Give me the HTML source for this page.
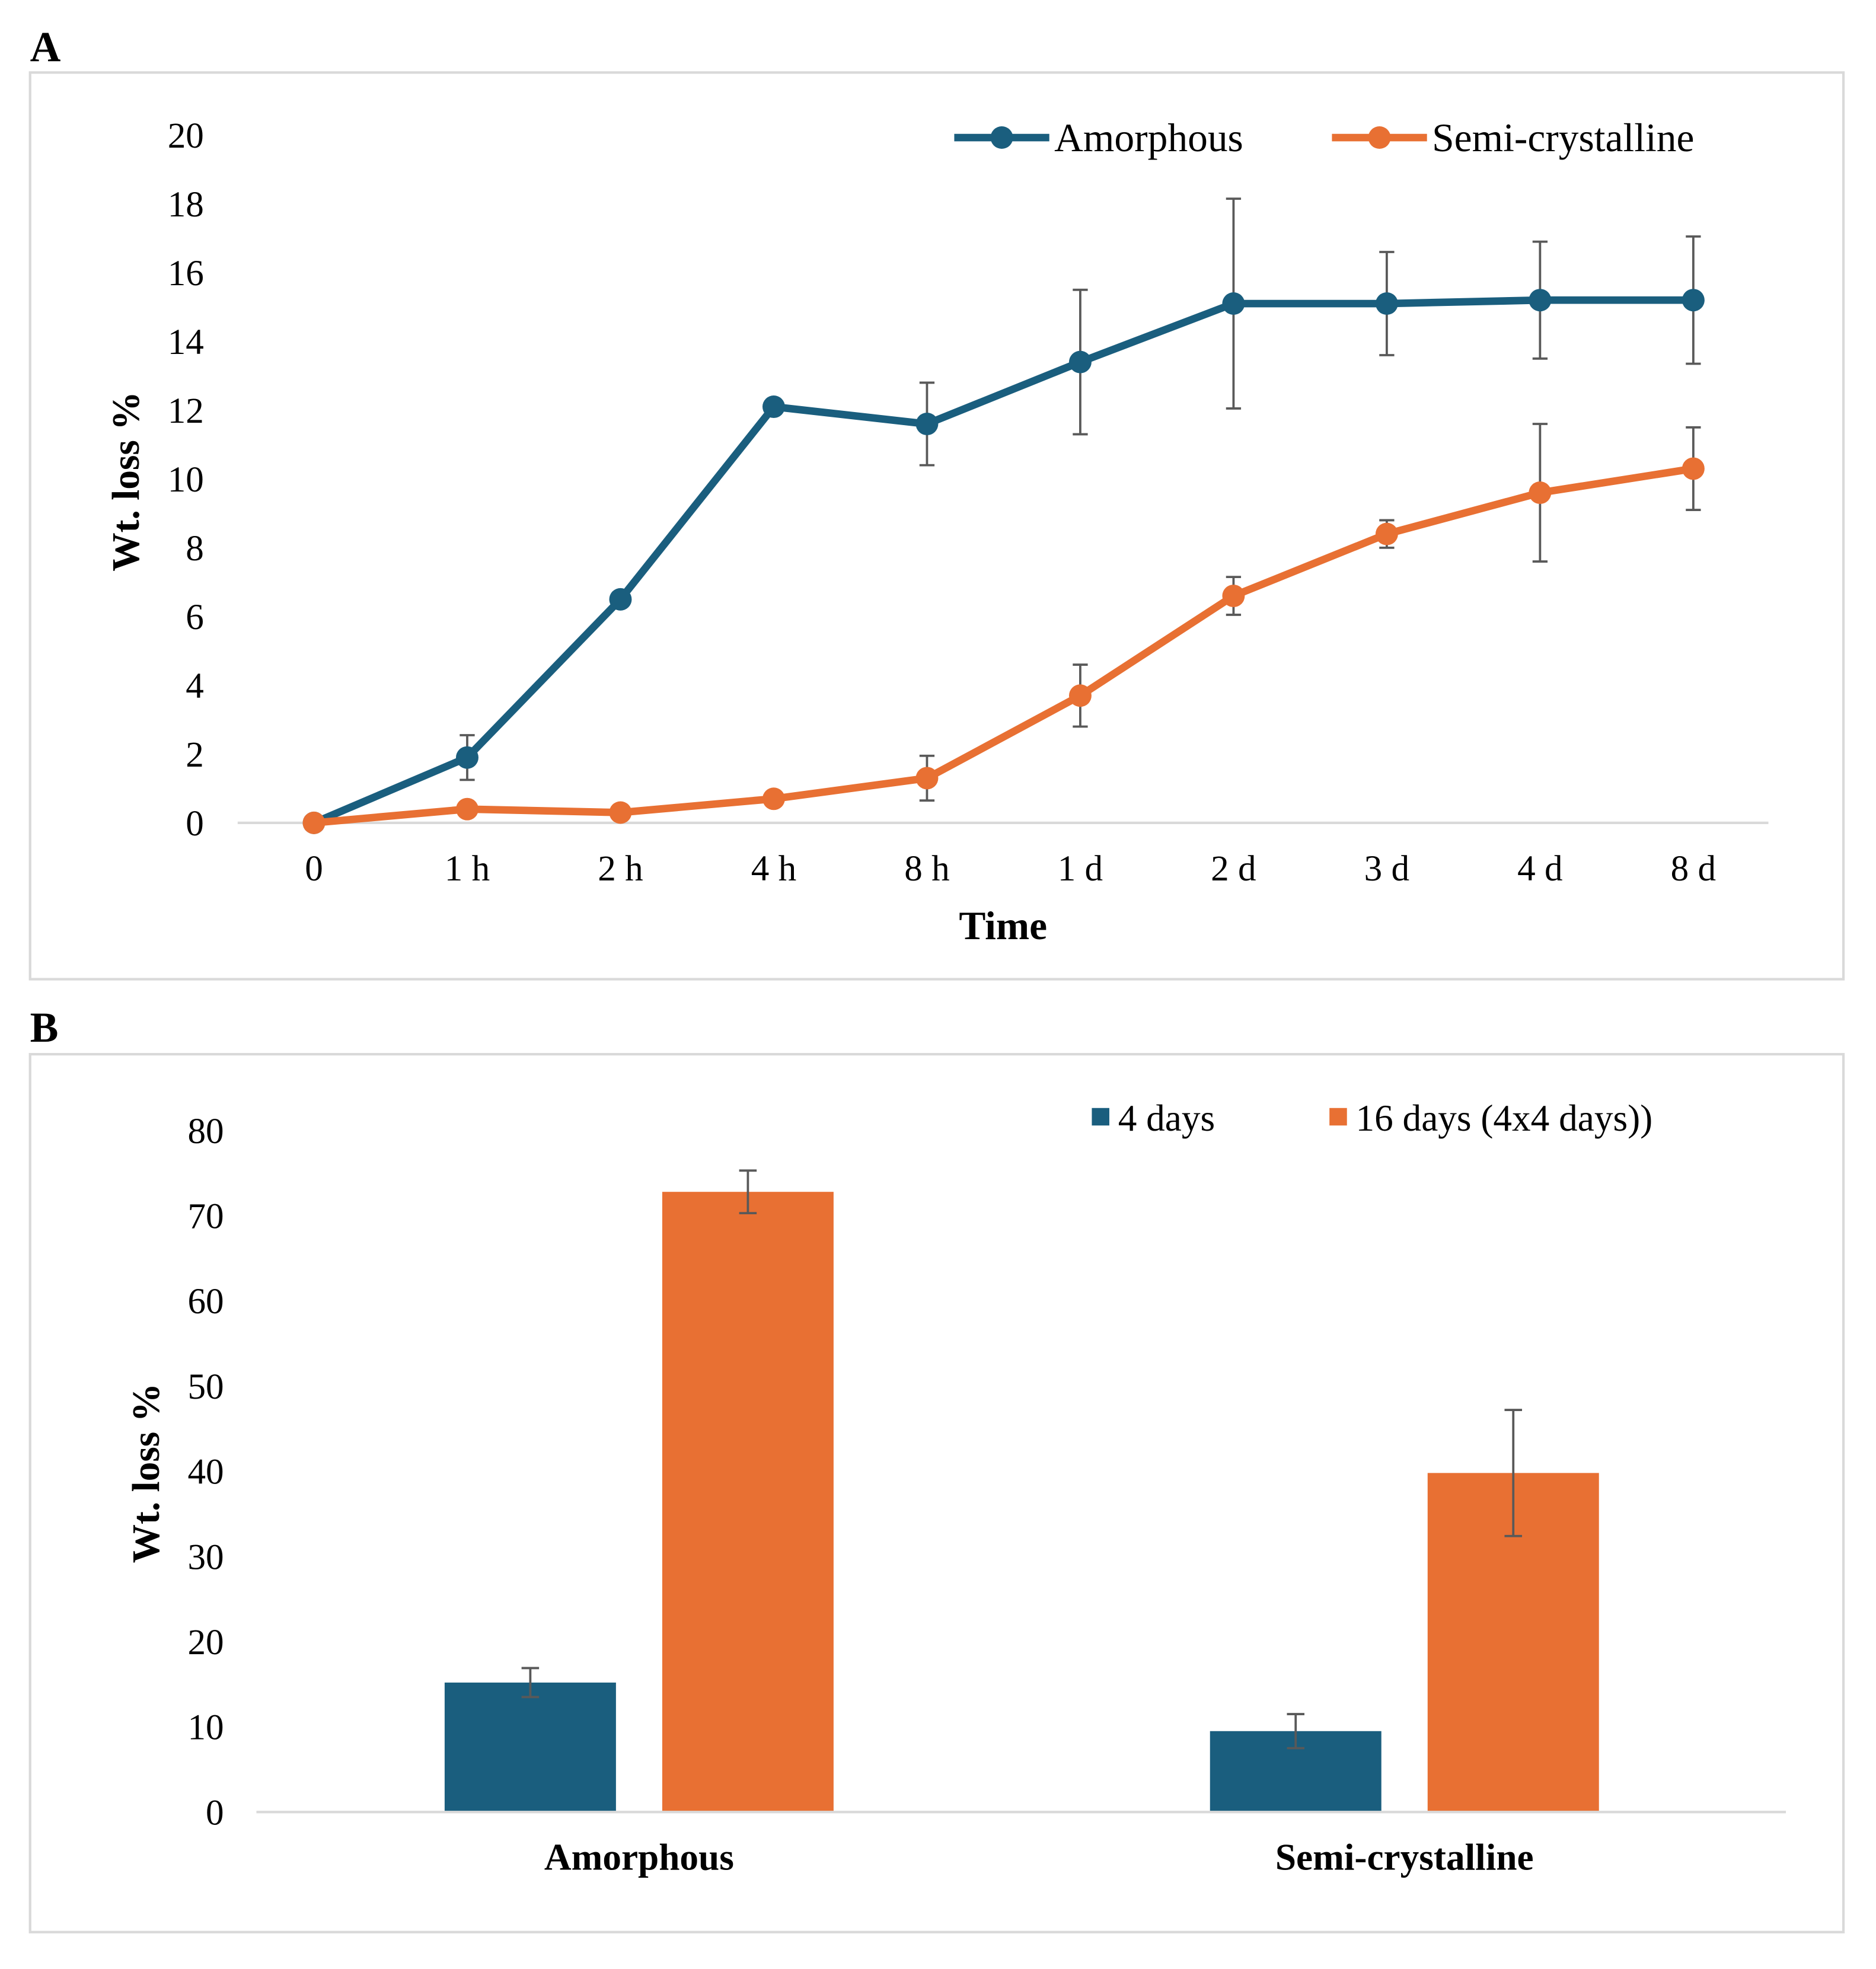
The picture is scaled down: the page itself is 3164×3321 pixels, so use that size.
<!DOCTYPE html>
<html><head><meta charset="utf-8">
<style>
html,body{margin:0;padding:0;background:#fff;}
svg{display:block;}
text{font-family:"Liberation Serif",serif;fill:#000;}
</style></head>
<body>
<svg id="fig" width="3164" height="3321" viewBox="0 0 1500 1574.5" xmlns="http://www.w3.org/2000/svg">
<rect x="0" y="0" width="1500" height="1574.5" fill="#fff"/>
<text x="24" y="49" font-size="34" font-weight="bold">A</text>
<rect x="24" y="58" width="1450" height="725" fill="none" stroke="#d9d9d9" stroke-width="2"/>
<text x="24" y="833" font-size="34" font-weight="bold">B</text>
<rect x="24" y="843" width="1450" height="702" fill="none" stroke="#d9d9d9" stroke-width="2"/>
<g id="chartA"></g>
<g id="chartB"></g>
</svg>
<script>
const timeLabels = ["0","1 h","2 h","4 h","8 h","1 d","2 d","3 d","4 d","8 d"];
const amorphousVals = [0,1.9,6.5,12.1,11.6,13.4,15.1,15.1,15.2,15.2];
const amorphousErr = [0,0.65,0,0,1.2,2.1,3.05,1.5,1.7,1.85];
const semiVals = [0,0.4,0.3,0.7,1.3,3.7,6.6,8.4,9.6,10.3];
const semiErr = [0,0,0,0.1,0.65,0.9,0.55,0.4,2.0,1.2];
const yTicksA = [0,2,4,6,8,10,12,14,16,18,20];

const barCategories = ["Amorphous","Semi-crystalline"];
const fourDayVals = [15.2,9.5];
const fourDayErr = [1.7,2.0];
const sixteenDayVals = [72.8,39.8];
const sixteenDayErr = [2.5,7.4];
const yTicksB = [0,10,20,30,40,50,60,70,80];

const NS="http://www.w3.org/2000/svg";
const BLUE="#1a5e7e", ORANGE="#e87033", ERR="#595959";
function mk(parent,tag,attrs,text){const e=document.createElementNS(NS,tag);for(const k in attrs)e.setAttribute(k,attrs[k]);if(text!==undefined)e.textContent=text;parent.appendChild(e);return e;}

// ---- Chart A ----
const A=document.getElementById('chartA');
const ax0=251, axStep=122.55, ay0=658, ayScale=27.5;
const xA=i=>ax0+i*axStep;
const yA=v=>ay0-v*ayScale;
yTicksA.forEach(t=>{const e=mk(A,'text',{x:163,y:yA(t)+10,'font-size':29,'text-anchor':'end'},String(t));

});
let ln=mk(A,'line',{x1:190,x2:1414,y1:ay0,y2:ay0,stroke:'#d9d9d9','stroke-width':2});


timeLabels.forEach((t,i)=>{const e=mk(A,'text',{x:xA(i),y:704,'font-size':29,'text-anchor':'middle'},t);

});
let tt=mk(A,'text',{x:802,y:751,'font-size':32,'font-weight':'bold','text-anchor':'middle'},'Time');


let yt=mk(A,'text',{x:0,y:0,'font-size':31,'font-weight':'bold','text-anchor':'middle',transform:'translate(111,385) rotate(-90)'},'Wt. loss %');


function drawSeries(vals,errs,color,name){
  errs.forEach((er,i)=>{if(er>0){const g=mk(A,'g',{stroke:ERR,'stroke-width':1.8});
    
    
    mk(g,'line',{x1:xA(i),x2:xA(i),y1:yA(vals[i]-er),y2:yA(vals[i]+er)});
    mk(g,'line',{x1:xA(i)-6,x2:xA(i)+6,y1:yA(vals[i]-er),y2:yA(vals[i]-er)});
    mk(g,'line',{x1:xA(i)-6,x2:xA(i)+6,y1:yA(vals[i]+er),y2:yA(vals[i]+er)});}});
  const p=mk(A,'polyline',{points:vals.map((v,i)=>xA(i)+','+yA(v)).join(' '),fill:'none',stroke:color,'stroke-width':6,'stroke-linejoin':'round'});
  
  
  vals.forEach((v,i)=>{const c=mk(A,'circle',{cx:xA(i),cy:yA(v),r:9,fill:color});
    
    });
}
drawSeries(amorphousVals,amorphousErr,BLUE,'amorphous');
drawSeries(semiVals,semiErr,ORANGE,'semi-crystalline');
const legA=[[763,'Amorphous',BLUE],[1065,'Semi-crystalline',ORANGE]];
legA.forEach(([x,t,c])=>{const g=mk(A,'g',{});
  
  
  mk(g,'line',{x1:x,x2:x+76,y1:110,y2:110,stroke:c,'stroke-width':6});
  mk(g,'circle',{cx:x+38,cy:110,r:9,fill:c});
  mk(g,'text',{x:x+80,y:121,'font-size':32},t);});

// ---- Chart B ----
const B=document.getElementById('chartB');
const by0=1449, byScale=(1449-904)/80;
const yB=v=>by0-v*byScale;
const catCenters=[511,1123], barW=137, gap=37;
yTicksB.forEach(t=>{const e=mk(B,'text',{x:179,y:yB(t)+10,'font-size':29,'text-anchor':'end'},String(t));

});
let yt2=mk(B,'text',{x:0,y:0,'font-size':31,'font-weight':'bold','text-anchor':'middle',fill:'#595959',transform:'translate(127,1178) rotate(-90)'},'Wt. loss %');


function drawBar(x,v,er,color,name){
  const r=mk(B,'rect',{x:x,y:yB(v),width:barW,height:by0-yB(v),fill:color});
  
  
  const cx=x+barW/2;const g=mk(B,'g',{stroke:ERR,'stroke-width':1.8});
  
  
  mk(g,'line',{x1:cx,x2:cx,y1:yB(v-er),y2:yB(v+er)});
  mk(g,'line',{x1:cx-7,x2:cx+7,y1:yB(v-er),y2:yB(v-er)});
  mk(g,'line',{x1:cx-7,x2:cx+7,y1:yB(v+er),y2:yB(v+er)});
}
barCategories.forEach((c,i)=>{
  drawBar(catCenters[i]-gap/2-barW,fourDayVals[i],fourDayErr[i],BLUE,'bar-4-days');
  drawBar(catCenters[i]+gap/2,sixteenDayVals[i],sixteenDayErr[i],ORANGE,'bar-16-days');
  const e=mk(B,'text',{x:catCenters[i],y:1495,'font-size':30,'font-weight':'bold','text-anchor':'middle'},c);
  
  
});
let ln2=mk(B,'line',{x1:205,x2:1428,y1:by0,y2:by0,stroke:'#d9d9d9','stroke-width':2});


const legB=[[873,'4 days',BLUE],[1063,'16 days (4x4 days))',ORANGE]];
legB.forEach(([x,t,c])=>{const g=mk(B,'g',{});
  
  
  mk(g,'rect',{x:x,y:886,width:14,height:14,fill:c});
  mk(g,'text',{x:x+21,y:904,'font-size':30},t);});
</script>
</body></html>
